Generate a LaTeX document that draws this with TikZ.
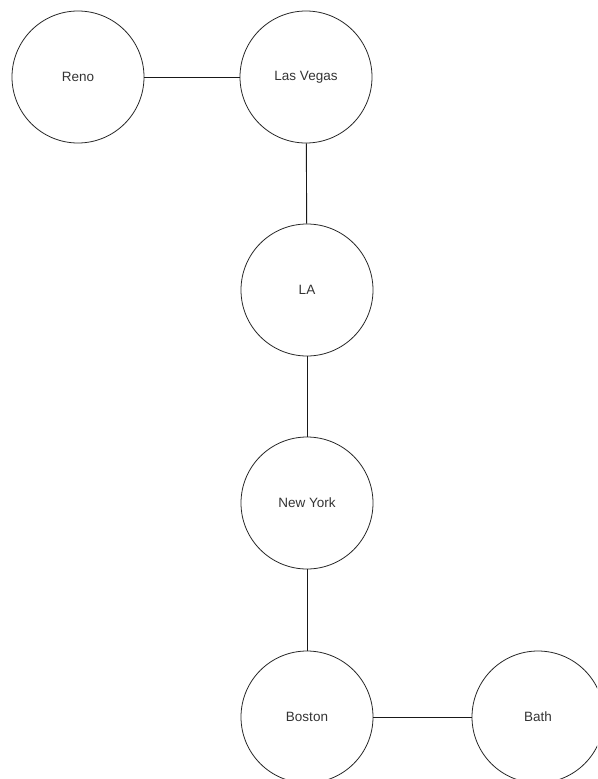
\documentclass[tikz,border=0pt]{standalone}
\usepackage{fontspec}
\setmainfont{Liberation Sans}
\usetikzlibrary{calc}
\tikzset{
	city/.style={circle, draw=black!85, line width=0.8pt, minimum size=132pt, inner sep=0pt, font=\fontsize{13.5}{16}\selectfont, text=black!80},
	road/.style={draw=black!90, line width=0.9pt}
}

\begin{document}
\begin{tikzpicture}[x=1pt, y=-1pt]
			%%%%% START %%%%%
			
			\useasboundingbox (0, 0) rectangle (597, 779);
			\clip (0, 0) rectangle (597, 779);
			
			\node[city] (reno) at (78, 77) {Reno};
			\node[city] (vegas) at (306, 77) {Las Vegas};
			\node[city] (la) at (307, 290) {LA};
			\node[city] (ny) at (307, 503) {New York};
			\node[city] (boston) at (307, 717) {Boston};
			\node[city] (bath) at (538, 717) {Bath};
			
			\draw[road] (reno) -- (vegas);
			\draw[road] (vegas) -- (la);
			\draw[road] (la) -- (ny);
			\draw[road] (ny) -- (boston);
			\draw[road] (boston) -- (bath);
			
			%%%%% END %%%%%
		\end{tikzpicture}
\end{document}
